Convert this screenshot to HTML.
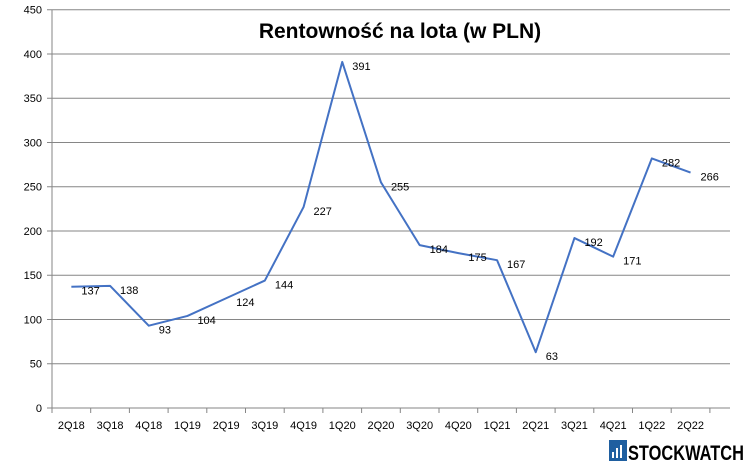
<!DOCTYPE html>
<html><head><meta charset="utf-8"><style>
body{margin:0;background:#fff;width:750px;height:470px;overflow:hidden;font-family:"Liberation Sans","DejaVu Sans",sans-serif}
</style></head><body>
<svg id="chart" width="750" height="470" xmlns="http://www.w3.org/2000/svg" font-family="Liberation Sans, DejaVu Sans, sans-serif">
<text x="400" y="38" text-anchor="middle" font-size="21" font-weight="bold" fill="#000">Rentowność na lota (w PLN)</text>
<g id="grid"></g>
<g id="xaxis"></g>
<g id="series"></g>
<g>
<rect x="609" y="440" width="18" height="21" fill="#1f5fa0"/>
<rect x="612" y="452" width="2" height="6" fill="#fff"/><rect x="616" y="448" width="2" height="10" fill="#fff"/><rect x="620" y="445" width="2" height="13" fill="#fff"/>
<text x="628" y="460" font-size="21" font-weight="bold" fill="#000" textLength="116" lengthAdjust="spacingAndGlyphs">STOCKWATCH</text>
</g>
</svg>
<script>
const categories=["2Q18","3Q18","4Q18","1Q19","2Q19","3Q19","4Q19","1Q20","2Q20","3Q20","4Q20","1Q21","2Q21","3Q21","4Q21","1Q22","2Q22"];
const values=[137,138,93,104,124,144,227,391,255,184,175,167,63,192,171,282,266];
const yTicks=[0,50,100,150,200,250,300,350,400,450];
const NS="http://www.w3.org/2000/svg";
const left=52,step=38.7,yTop=9.7,yBot=408,yMax=450,gridRight=730;
const xPos=i=>left+(i+0.5)*step;
const yPos=v=>yBot-(v/yMax)*(yBot-yTop);
function mk(tag,attrs,parent){const e=document.createElementNS(NS,tag);for(const k in attrs)e.setAttribute(k,attrs[k]);parent.appendChild(e);return e;}
const grid=document.getElementById('grid'),xa=document.getElementById('xaxis'),ser=document.getElementById('series');
yTicks.forEach(t=>{const y=yPos(t);
 const l=mk('line',{x1:left-5,x2:gridRight,y1:y,y2:y,stroke:'#868686','stroke-width':1},grid);
 
 
 const tx=mk('text',{x:left-10,y:y+4,'text-anchor':'end','font-size':11,fill:'#000'},grid);
 tx.textContent=t;
 
 
});
const axisRight=left+categories.length*step;
const yl=mk('line',{x1:left,x2:left,y1:yTop,y2:yBot,stroke:'#868686'},xa);


const xl=mk('line',{x1:left,x2:axisRight,y1:yBot,y2:yBot,stroke:'#868686'},xa);


for(let i=0;i<=categories.length;i++){const x=left+i*step;mk('line',{x1:x,x2:x,y1:yBot,y2:yBot+5,stroke:'#868686'},xa);}
categories.forEach((c,i)=>{const t=mk('text',{x:xPos(i),y:yBot+21,'text-anchor':'middle','font-size':11,fill:'#000'},xa);
 t.textContent=c;
 
 
});
const pts=values.map((v,i)=>xPos(i)+','+yPos(v)).join(' ');
const pl=mk('polyline',{points:pts,fill:'none',stroke:'#4472c4','stroke-width':2,'stroke-linejoin':'round'},ser);


values.forEach((v,i)=>{const t=mk('text',{x:xPos(i)+10,y:yPos(v)+8,'font-size':11,fill:'#000'},ser);
 t.textContent=v;
 
 
});
</script>
</body></html>
